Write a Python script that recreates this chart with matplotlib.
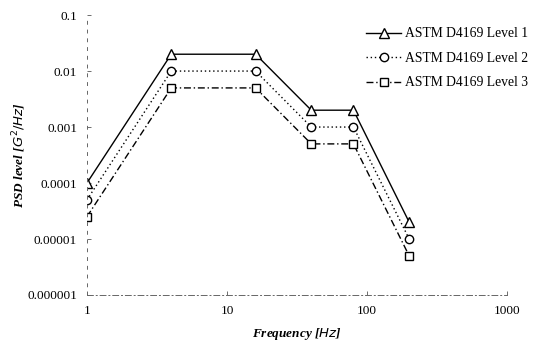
import numpy as np
import matplotlib.pyplot as plt
from matplotlib.ticker import FixedLocator, NullLocator

plt.rcParams['font.family'] = ['Liberation Serif', 'DejaVu Serif']

# ASTM D4169 random vibration profiles (truck)
freq = [1, 4, 16, 40, 80, 200]
level1 = [1e-4, 0.02, 0.02, 0.002, 0.002, 2e-5]
level2 = [5e-5, 0.01, 0.01, 0.001, 0.001, 1e-5]
level3 = [2.5e-5, 0.005, 0.005, 0.0005, 0.0005, 5e-6]

y_ticks = [1e-6, 1e-5, 1e-4, 1e-3, 1e-2, 1e-1]
y_labels = ['0.000001', '0.00001', '0.0001', '0.001', '0.01', '0.1']
x_ticks = [1, 10, 100, 1000]
x_labels = ['1', '10', '100', '1000']

fig = plt.figure(figsize=(5.4, 3.43), dpi=100)
ax = fig.add_axes([0.161, 0.140, 0.778, 0.816])

ax.plot(freq, level1, color='black', lw=1.0, ls='-', marker='^', ms=6.5,
        mfc='white', mec='black', mew=1.0, label='ASTM D4169 Level 1')
ax.plot(freq, level2, color='black', lw=1.0, ls=(0, (1, 2)), marker='o', ms=6,
        mfc='white', mec='black', mew=1.0, label='ASTM D4169 Level 2')
ax.plot(freq, level3, color='black', lw=1.0, ls=(0, (5, 2, 1, 2)), marker='s', ms=6,
        mfc='white', mec='black', mew=1.0, label='ASTM D4169 Level 3')

ax.set_xscale('log')
ax.set_yscale('log')
ax.set_xlim(1, 1000)
ax.set_ylim(1e-6, 0.1)

ax.xaxis.set_major_locator(FixedLocator(x_ticks))
ax.set_xticklabels(x_labels)
ax.xaxis.set_minor_locator(NullLocator())
ax.yaxis.set_major_locator(FixedLocator(y_ticks))
ax.set_yticklabels(y_labels)
ax.yaxis.set_minor_locator(NullLocator())

ax.tick_params(axis='both', which='major', labelsize=9.5, length=3, width=0.6,
               direction='in', color='#555555', pad=7)

for side in ['top', 'right']:
    ax.spines[side].set_visible(False)
ax.spines['left'].set_linestyle((0, (3, 6)))
ax.spines['left'].set_color('#666666')
ax.spines['left'].set_linewidth(0.7)
ax.spines['bottom'].set_linestyle((0, (6, 3, 1, 3)))
ax.spines['bottom'].set_color('#666666')
ax.spines['bottom'].set_linewidth(0.7)

ax.set_xlabel('Frequency [$\\mathit{Hz}$]', fontsize=9.5, fontweight='bold',
              fontstyle='italic')
ax.xaxis.set_label_coords(0.5, -0.11)
ax.set_ylabel('PSD level [$\\mathit{G^2/Hz}$]', fontsize=9.5, fontweight='bold',
              fontstyle='italic')
ax.yaxis.set_label_coords(-0.14, 0.5)

leg = ax.legend(loc='upper right', bbox_to_anchor=(1.08, 1.0), frameon=False,
                fontsize=9.8, handlelength=2.6, handletextpad=0.3, labelspacing=0.85)

fig.savefig('out.png', dpi=100)
